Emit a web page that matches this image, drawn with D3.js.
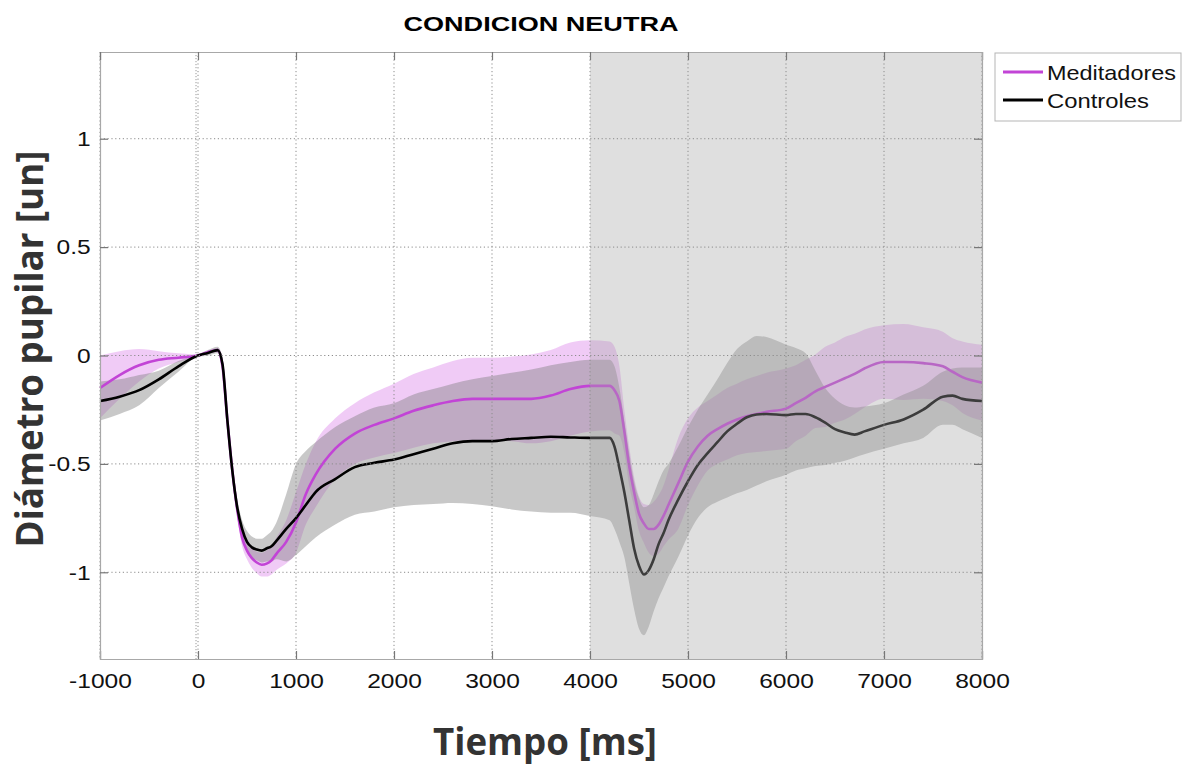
<!DOCTYPE html>
<html><head><meta charset="utf-8">
<script src="https://cdn.jsdelivr.net/npm/d3@7"></script>
<style>body{margin:0;background:#fff;} svg{display:block}</style>
</head><body>
<svg id="c" width="1199" height="766"></svg>
<script>
const titleText = "CONDICION NEUTRA";
const xLabel = "Tiempo [ms]";
const yLabel = "Diámetro pupilar [un]";
const seriesNames = ["Meditadores", "Controles"];
const xTicks = [-1000, 0, 1000, 2000, 3000, 4000, 5000, 6000, 7000, 8000];
const yTicks = [-1, -0.5, 0, 0.5, 1];
const shadeRange = [4000, 8000];

const timeMs = [-1000,-800,-600,-400,-200, 0,100,200,250,300, 350,400,450,500,550, 600,650,700,750,800,
  900,1000,1100,1200,1400, 1600,1800,2000,2200,2400, 2600,2800,3000,3200,3400, 3600,3800,4000,4200,4250,
  4300,4350,4400,4450,4500, 4550,4600,4650,4700,4750, 4800,4900,5000,5100,5200, 5300,5400,5500,5600,5700,
  5800,6000,6100,6200,6300, 6400,6500,6600,6700,6800, 7000,7200,7400,7600,7700, 7800,8000];

const medMean = [-0.15,-0.09,-0.045,-0.02,-0.01, 0.0,0.015,0.025,-0.05,-0.30, -0.53,-0.71,-0.84,-0.90,-0.935,
  -0.955,-0.965,-0.96,-0.945,-0.915, -0.86,-0.77,-0.64,-0.55,-0.43, -0.36,-0.32,-0.29,-0.255,-0.23,
  -0.21,-0.20,-0.20,-0.20,-0.20, -0.185,-0.155,-0.14,-0.14,-0.16, -0.21,-0.35,-0.51,-0.63,-0.73,
  -0.775,-0.80,-0.80,-0.78,-0.74, -0.69,-0.59,-0.49,-0.42,-0.37, -0.34,-0.315,-0.295,-0.28,-0.27,
  -0.26,-0.245,-0.22,-0.195,-0.165, -0.145,-0.125,-0.105,-0.085,-0.06, -0.03,-0.03,-0.035,-0.05,-0.075,
  -0.10,-0.125];
const medUpper = [0.0,0.02,0.03,0.02,0.01, 0.005,0.02,0.035,-0.03,-0.28, -0.50,-0.68,-0.80,-0.86,-0.89,
  -0.905,-0.91,-0.90,-0.88,-0.84, -0.76,-0.63,-0.50,-0.40,-0.29, -0.22,-0.17,-0.13,-0.085,-0.055,
  -0.025,-0.01,-0.01,-0.005,0.005, 0.025,0.06,0.07,0.065,0.04, -0.05,-0.25,-0.42,-0.56,-0.65,
  -0.685,-0.69,-0.675,-0.645,-0.60, -0.53,-0.38,-0.29,-0.24,-0.21, -0.18,-0.15,-0.13,-0.11,-0.095,
  -0.08,-0.06,-0.045,-0.02,0.005, 0.04,0.06,0.085,0.10,0.12, 0.14,0.145,0.13,0.11,0.08,
  0.065,0.05];
const medLower = [-0.29,-0.20,-0.12,-0.06,-0.03, -0.005,0.01,0.015,-0.07,-0.32, -0.56,-0.74,-0.88,-0.94,-0.98,
  -1.005,-1.02,-1.02,-1.01,-0.99, -0.96,-0.91,-0.78,-0.70,-0.57, -0.50,-0.47,-0.45,-0.425,-0.405,
  -0.395,-0.39,-0.39,-0.395,-0.405, -0.395,-0.37,-0.35,-0.345,-0.36, -0.37,-0.45,-0.60,-0.70,-0.81,
  -0.865,-0.91,-0.925,-0.915,-0.88, -0.85,-0.80,-0.69,-0.60,-0.53, -0.50,-0.48,-0.46,-0.45,-0.445,
  -0.44,-0.43,-0.395,-0.37,-0.335, -0.33,-0.31,-0.295,-0.27,-0.24, -0.20,-0.205,-0.20,-0.21,-0.23,
  -0.265,-0.30];

const ctrlMean = [-0.21,-0.19,-0.16,-0.11,-0.05, 0.0,0.012,0.025,-0.04,-0.30, -0.53,-0.70,-0.80,-0.86,-0.885,
  -0.895,-0.90,-0.89,-0.88,-0.855, -0.80,-0.75,-0.69,-0.63,-0.57, -0.515,-0.495,-0.48,-0.455,-0.43,
  -0.405,-0.395,-0.395,-0.385,-0.38, -0.375,-0.378,-0.38,-0.38,-0.42, -0.52,-0.63,-0.76,-0.89,-0.97,
  -1.01,-0.99,-0.94,-0.87,-0.82, -0.76,-0.665,-0.58,-0.505,-0.45, -0.40,-0.35,-0.315,-0.285,-0.272,
  -0.27,-0.275,-0.27,-0.27,-0.285, -0.31,-0.34,-0.355,-0.365,-0.35, -0.32,-0.295,-0.25,-0.19,-0.185,
  -0.20,-0.21];
const ctrlUpper = [-0.12,-0.11,-0.09,-0.07,-0.025, 0.005,0.025,0.04,-0.01,-0.27, -0.49,-0.66,-0.76,-0.81,-0.835,
  -0.845,-0.845,-0.83,-0.81,-0.77, -0.64,-0.50,-0.44,-0.40,-0.33, -0.28,-0.24,-0.22,-0.18,-0.155,
  -0.13,-0.11,-0.095,-0.08,-0.065, -0.045,-0.03,-0.02,-0.02,-0.05, -0.15,-0.30,-0.45,-0.58,-0.66,
  -0.70,-0.69,-0.64,-0.58,-0.53, -0.50,-0.42,-0.33,-0.25,-0.18, -0.11,-0.035,0.03,0.065,0.09,
  0.085,0.05,0.035,0.01,-0.07, -0.15,-0.20,-0.23,-0.24,-0.235, -0.22,-0.18,-0.14,-0.075,-0.06,
  -0.055,-0.055];
const ctrlLower = [-0.30,-0.27,-0.23,-0.15,-0.075, -0.005,-0.001,0.01,-0.07,-0.33, -0.57,-0.74,-0.84,-0.91,-0.935,
  -0.945,-0.955,-0.95,-0.95,-0.94, -0.95,-0.92,-0.88,-0.84,-0.78, -0.735,-0.72,-0.70,-0.69,-0.685,
  -0.68,-0.685,-0.695,-0.71,-0.72, -0.725,-0.725,-0.74,-0.76,-0.80, -0.86,-0.93,-1.05,-1.17,-1.26,
  -1.29,-1.25,-1.18,-1.12,-1.07, -1.02,-0.93,-0.83,-0.75,-0.70, -0.675,-0.655,-0.635,-0.62,-0.60,
  -0.58,-0.55,-0.53,-0.52,-0.51, -0.505,-0.495,-0.485,-0.47,-0.455, -0.43,-0.405,-0.38,-0.32,-0.32,
  -0.34,-0.38];

const colMed = "#c244d6", colCtrl = "#000000";
const bandMed = "rgba(221,140,235,0.45)", bandCtrl = "rgba(124,124,124,0.42)";

const svg = d3.select("#c");
const X0 = 100, X1 = 982, Y0 = 52, Y1 = 659;
const x = d3.scaleLinear().domain([-1000, 8000]).range([X0, X1]);
const y = d3.scaleLinear().domain([-1.4, 1.4]).range([Y1, Y0]);
const idx = d3.range(timeMs.length);

svg.append("rect").attr("x", X0).attr("y", Y0).attr("width", X1 - X0).attr("height", Y1 - Y0).attr("fill", "#fff");

const area = (lo, hi) => d3.area().x(i => x(timeMs[i])).y0(i => y(lo[i])).y1(i => y(hi[i])).curve(d3.curveMonotoneX);
const line = (v) => d3.line().x(i => x(timeMs[i])).y(i => y(v[i])).curve(d3.curveMonotoneX);

svg.append("path").datum(idx).attr("d", area(medLower, medUpper)).attr("fill", bandMed);
svg.append("path").datum(idx).attr("d", area(ctrlLower, ctrlUpper)).attr("fill", bandCtrl);
svg.append("path").datum(idx).attr("d", line(medMean)).attr("fill", "none").attr("stroke", colMed).attr("stroke-width", 2.6);
svg.append("path").datum(idx).attr("d", line(ctrlMean)).attr("fill", "none").attr("stroke", colCtrl).attr("stroke-width", 2.6);

// shaded analysis window (drawn over data, semi-transparent)
svg.append("rect").attr("x", x(shadeRange[0])).attr("y", Y0)
  .attr("width", x(shadeRange[1]) - x(shadeRange[0])).attr("height", Y1 - Y0)
  .attr("fill", "#a7a7a7").attr("opacity", 0.36);

// grid
const gridG = svg.append("g").attr("stroke", "#8c8c8c").attr("stroke-width", 1).attr("stroke-dasharray", "1.2,2.6");
gridG.selectAll("line.gx").data(xTicks).join("line")
  .attr("x1", d => x(d)).attr("x2", d => x(d)).attr("y1", Y0).attr("y2", Y1);
gridG.selectAll("line.gy").data(yTicks).join("line")
  .attr("x1", X0).attr("x2", X1).attr("y1", d => y(d)).attr("y2", d => y(d));
// onset marker at 0
svg.append("line").attr("x1", x(0) - 2).attr("x2", x(0) - 2).attr("y1", Y0).attr("y2", Y1)
  .attr("stroke", "#9a9a9a").attr("stroke-width", 1).attr("stroke-dasharray", "1.2,1.8");

// axes
const tickFont = "'Liberation Sans', Arial, Helvetica, sans-serif";
const fmt = d => String(d);
const gx = svg.append("g").attr("transform", `translate(0,${Y1})`)
  .call(d3.axisBottom(x).tickValues(xTicks).tickSize(-8).tickPadding(14).tickFormat(fmt));
const gy = svg.append("g").attr("transform", `translate(${X0},0)`)
  .call(d3.axisLeft(y).tickValues(yTicks).tickSize(-8).tickPadding(8).tickFormat(fmt));
const gt = svg.append("g").attr("transform", `translate(0,${Y0})`)
  .call(d3.axisTop(x).tickValues(xTicks).tickSize(-8).tickFormat(""));
const gr = svg.append("g").attr("transform", `translate(${X1},0)`)
  .call(d3.axisRight(y).tickValues(yTicks).tickSize(-8).tickFormat(""));
[gx, gy, gt, gr].forEach(g => {
  g.select(".domain").attr("stroke", "#a8a8a8").attr("stroke-width", 1.2);
  g.selectAll(".tick line").attr("stroke", "#777").attr("stroke-width", 1.2);
  g.selectAll("text").attr("font-family", tickFont).attr("font-size", 21).attr("fill", "#111");
});
gx.selectAll(".tick text").attr("transform", "scale(1.17,1)");
gy.selectAll(".tick text").attr("transform", "scale(1.17,1)");

// title
svg.append("text").attr("x", 541).attr("y", 31).attr("text-anchor", "middle")
  .attr("font-family", tickFont).attr("font-weight", "bold").attr("font-size", 21).attr("fill", "#000")
  .attr("textLength", 275).attr("lengthAdjust", "spacingAndGlyphs")
  .text(titleText);

// axis labels
const labFont = "'Open Sans', 'DejaVu Sans', sans-serif";
svg.append("text").attr("x", 545).attr("y", 755).attr("text-anchor", "middle")
  .attr("font-family", labFont).attr("font-weight", "bold").attr("font-size", 38).attr("fill", "#333")
  .attr("textLength", 224).attr("lengthAdjust", "spacingAndGlyphs")
  .text(xLabel);
svg.append("text").attr("transform", "translate(43,349) rotate(-90)").attr("text-anchor", "middle")
  .attr("font-family", labFont).attr("font-weight", "bold").attr("font-size", 38).attr("fill", "#333")
  .attr("textLength", 397).attr("lengthAdjust", "spacingAndGlyphs")
  .text(yLabel);

// legend
const lg = svg.append("g");
lg.append("rect").attr("x", 995).attr("y", 53).attr("width", 186).attr("height", 68)
  .attr("fill", "#fff").attr("stroke", "#b5b5b5").attr("stroke-width", 1);
const legCols = [colMed, colCtrl];
const legLen = [129, 102];
seriesNames.forEach((name, i) => {
  const yy = 72 + i * 28;
  lg.append("line").attr("x1", 1003).attr("x2", 1043).attr("y1", yy).attr("y2", yy)
    .attr("stroke", legCols[i]).attr("stroke-width", 3);
  lg.append("text").attr("x", 1047).attr("y", yy + 8).attr("font-family", tickFont).attr("font-size", 21)
    .attr("fill", "#111").attr("textLength", legLen[i]).attr("lengthAdjust", "spacingAndGlyphs").text(name);
});
</script>
</body></html>
